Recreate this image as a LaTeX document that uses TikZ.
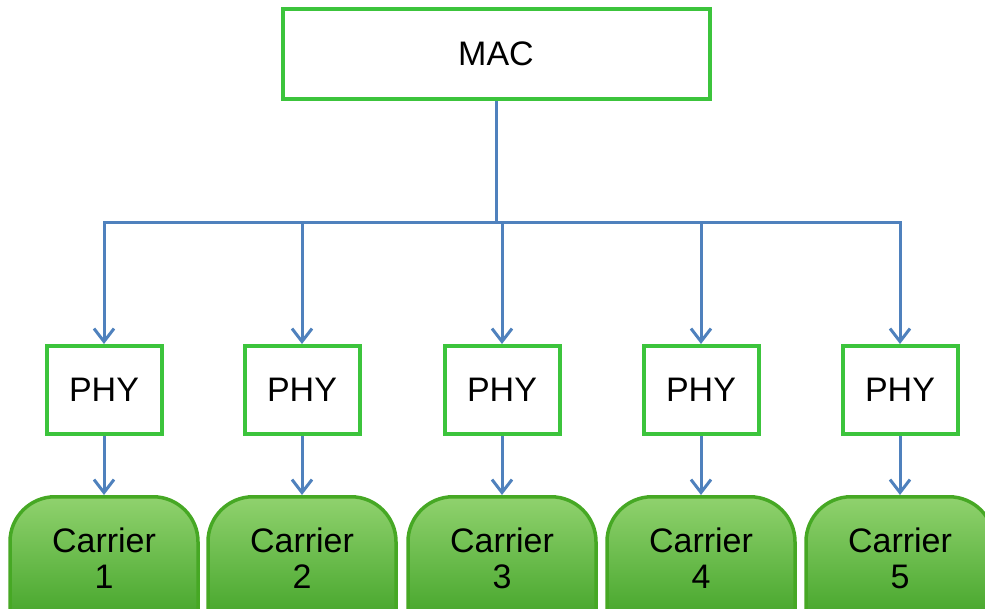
\documentclass[tikz,border=0pt]{standalone}
\usepackage{fontspec}
\setmainfont{Liberation Sans}
\usetikzlibrary{arrows.meta}
\definecolor{boxgreen}{RGB}{60,196,60}
\definecolor{cargreen}{RGB}{70,168,36}
\definecolor{cartop}{RGB}{144,210,110}
\definecolor{carbot}{RGB}{22,137,0}
\definecolor{linkblue}{RGB}{79,129,189}
\tikzset{
  labelfont/.style={font=\fontsize{34}{36}\selectfont},
  greenbox/.style={draw=boxgreen, line width=4pt, fill=white, rectangle, inner sep=0pt, labelfont},
  carrierbox/.style={draw=cargreen, line width=3.5pt, rectangle, rounded corners=45pt,
    minimum width=188pt, minimum height=200pt, anchor=north, top color=cartop, bottom color=carbot},
  cartext/.style={align=center, labelfont, inner sep=0pt},
  link/.style={draw=linkblue, line width=3pt},
  arr/.style={link, -{Straight Barb[length=13pt,width=20pt,line width=3pt]}},
}
\begin{document}
\begin{tikzpicture}[x=1pt,y=-1pt]
\useasboundingbox (0,0) rectangle (985,608);
\clip (0,0) rectangle (985,608);
\node[greenbox, minimum width=427pt, minimum height=90pt] (mac) at (496,54) {MAC};
\foreach \i/\x in {1/104,2/302,3/502,4/701,5/900}{
  \node[greenbox, minimum width=115pt, minimum height=88pt] (phy\i) at (\x,390) {PHY};
  \node[carrierbox] (car\i) at (\x,495) {};
  \node[cartext] (ct\i) at ([yshift=-63pt]car\i.north) {Carrier\\\i};
}
\draw[link] (mac.south) -- (496,222) coordinate (j);
\foreach \i in {1,...,5}{
  \draw[arr] (j) -| (phy\i.north);
  \draw[arr] (phy\i.south) -- (car\i.north);
}
\end{tikzpicture}
\end{document}
